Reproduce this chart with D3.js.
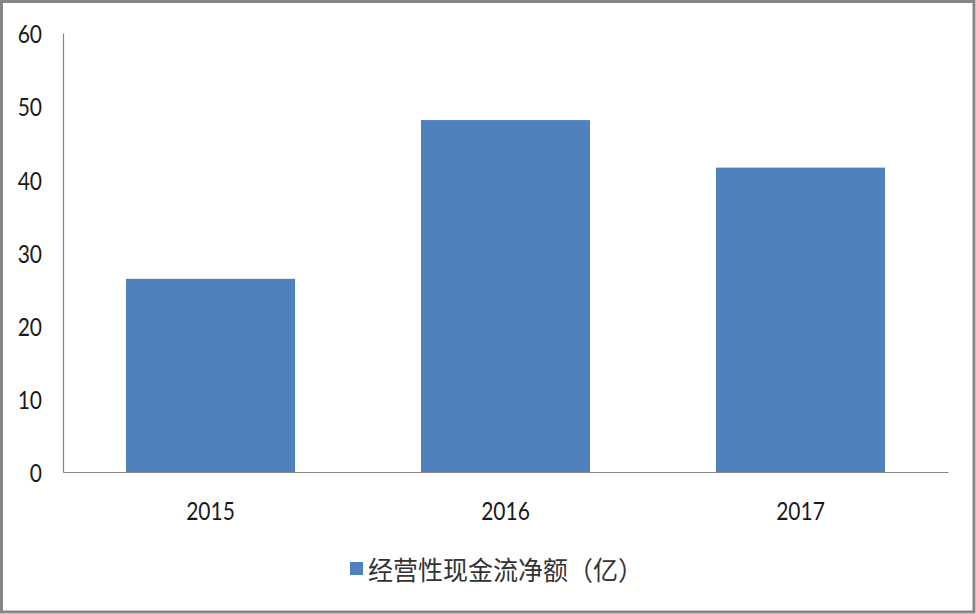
<!DOCTYPE html>
<html><head><meta charset="utf-8">
<script src="https://cdn.jsdelivr.net/npm/d3@7"></script>
<style>
html,body{margin:0;padding:0;background:#fff;}
svg{display:block;}
</style></head>
<body>
<svg id="c" width="976" height="614"></svg>
<script>
const categories = ["2015", "2016", "2017"];
const values = [26.4, 48.1, 41.6];
const yTicks = [0, 10, 20, 30, 40, 50, 60];
const seriesName = "经营性现金流净额（亿）";

const svg = d3.select("#c");
const W = 976, H = 614;
const m = {left: 63, right: 28, top: 33, bottom: 142};

svg.append("rect").attr("x", 1.5).attr("y", 1.5).attr("width", W - 3.5).attr("height", H - 3.5)
  .attr("fill", "#fff").attr("stroke", "#868686").attr("stroke-width", 3);

const x = d3.scaleBand().domain(categories).range([m.left, W - m.right]).paddingInner(0.427).paddingOuter(0.2135);
const y = d3.scaleLinear().domain([0, 60]).range([H - m.bottom, m.top]);

svg.selectAll("rect.bar").data(values).enter().append("rect").attr("class", "bar")
  .attr("x", (d, i) => x(categories[i]))
  .attr("y", d => y(d))
  .attr("width", x.bandwidth())
  .attr("height", d => y(0) - y(d))
  .attr("fill", "#4F81BD");

const fontFam = "Lato, 'Open Sans', sans-serif";
const sy = 1.17;

// y axis
const yAxis = svg.append("g").attr("transform", `translate(${m.left},0)`)
  .call(d3.axisLeft(y).tickValues(yTicks).tickSize(0).tickPadding(21));
yAxis.select(".domain").attr("stroke", "#868686").attr("stroke-width", 1.2);
yAxis.selectAll("text").attr("font-family", fontFam).attr("font-size", 21).attr("fill", "#1a1a1a")
  .attr("dy", null).attr("y", 0).attr("dominant-baseline", "central")
  .attr("transform", `scale(1,${sy})`);

// x axis
const xAxis = svg.append("g").attr("transform", `translate(0,${y(0)})`)
  .call(d3.axisBottom(x).tickSize(0).tickPadding(0));
xAxis.select(".domain").attr("stroke", "#868686").attr("stroke-width", 1.2);
xAxis.selectAll("text").attr("font-family", fontFam).attr("font-size", 21).attr("fill", "#1a1a1a")
  .attr("dy", null).attr("y", 0).attr("dominant-baseline", "central")
  .attr("transform", `translate(0,38) scale(1,${sy})`);

// legend
const lg = svg.append("g");
lg.append("rect").attr("x", 350).attr("y", 562).attr("width", 13).attr("height", 13).attr("fill", "#4F81BD");
lg.append("text").attr("x", 368).attr("y", 0).attr("dominant-baseline", "central")
  .attr("transform", `translate(0,568) scale(1,1.05)`)
  .attr("font-family", "'Noto Sans CJK SC', sans-serif").attr("font-size", 25).attr("fill", "#333")
  .text(seriesName);
</script>
</body></html>
